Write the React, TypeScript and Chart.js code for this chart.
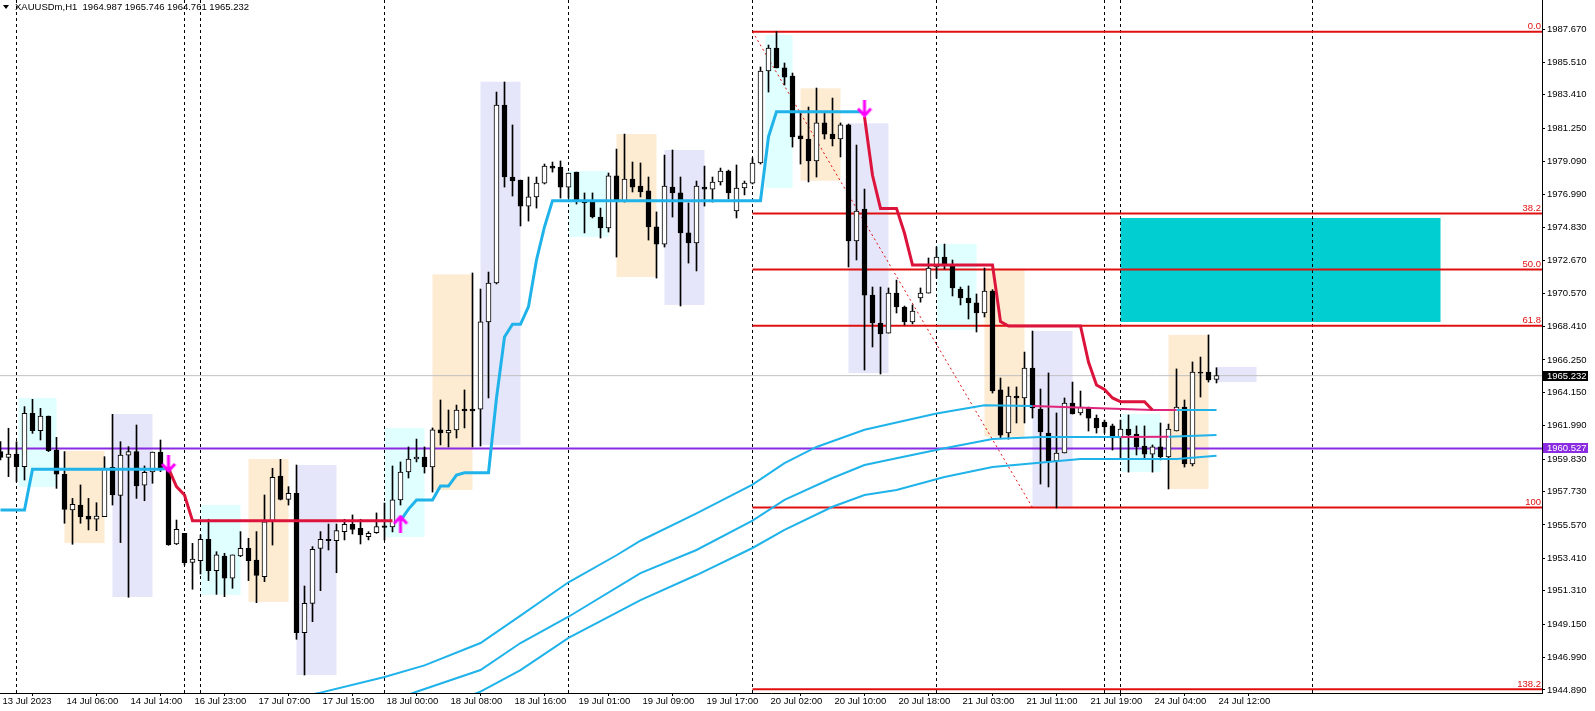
import React, { useEffect, useRef } from 'react';
import { Chart, registerables } from 'chart.js';

Chart.register(...registerables);

// ---------- axis ----------
const Y_MIN = 1944.695;
const Y_MAX = 1989.547;
const X_MIN = -0.0625;
const X_MAX = 192.6875;

const xTickBars = [0, 8, 16, 24, 32, 40, 48, 56, 64, 72, 80, 88, 96, 104, 112, 120, 128, 136, 144, 152];
const xTickLabels = ['13 Jul 2023', '14 Jul 06:00', '14 Jul 14:00', '16 Jul 23:00', '17 Jul 07:00', '17 Jul 15:00', '18 Jul 00:00', '18 Jul 08:00', '18 Jul 16:00', '19 Jul 01:00', '19 Jul 09:00', '19 Jul 17:00', '20 Jul 02:00', '20 Jul 10:00', '20 Jul 18:00', '21 Jul 03:00', '21 Jul 11:00', '21 Jul 19:00', '24 Jul 04:00', '24 Jul 12:00'];
const yTickValues = [1987.67, 1985.51, 1983.41, 1981.25, 1979.09, 1976.99, 1974.83, 1972.67, 1970.57, 1968.41, 1966.25, 1964.15, 1961.99, 1959.83, 1957.73, 1955.57, 1953.41, 1951.31, 1949.15, 1946.99, 1944.89];

// ---------- candles (bar index = array index) ----------
const open = [1960.32, 1959.95, 1960.16, 1959.34, 1962.80, 1961.67, 1962.62, 1960.42, 1958.85, 1956.54, 1956.86, 1956.15, 1955.94, 1956.11, 1959.30, 1957.49, 1960.08, 1960.32, 1958.14, 1959.00, 1960.29, 1959.24, 1954.34, 1955.03, 1953.15, 1953.26, 1954.64, 1952.61, 1953.56, 1952.12, 1953.56, 1954.06, 1953.30, 1952.22, 1955.81, 1958.74, 1957.23, 1957.62, 1948.60, 1950.50, 1954.06, 1954.64, 1954.55, 1955.14, 1955.61, 1955.35, 1954.81, 1955.07, 1955.51, 1955.44, 1957.19, 1959.00, 1959.84, 1959.97, 1959.32, 1961.72, 1961.52, 1961.72, 1963.07, 1963.07, 1963.07, 1968.71, 1971.23, 1982.75, 1978.09, 1977.89, 1976.21, 1976.80, 1977.70, 1978.80, 1978.74, 1977.44, 1978.41, 1976.60, 1976.47, 1975.50, 1974.79, 1978.16, 1976.54, 1977.96, 1977.51, 1977.19, 1974.86, 1973.75, 1977.44, 1977.06, 1974.47, 1973.82, 1977.44, 1977.31, 1977.77, 1978.48, 1975.89, 1977.38, 1977.70, 1979.00, 1984.95, 1986.44, 1985.15, 1984.63, 1980.75, 1980.55, 1979.13, 1981.59, 1980.87, 1980.55, 1981.46, 1973.95, 1976.02, 1970.45, 1968.64, 1967.99, 1970.58, 1969.68, 1968.71, 1970.26, 1970.58, 1972.27, 1972.91, 1972.33, 1970.84, 1970.26, 1969.94, 1969.29, 1970.71, 1964.31, 1961.52, 1963.92, 1963.79, 1965.73, 1963.07, 1961.52, 1959.71, 1960.23, 1963.46, 1962.82, 1963.14, 1962.49, 1962.23, 1961.98, 1961.20, 1961.78, 1961.46, 1960.68, 1960.16, 1960.62, 1959.97, 1961.65, 1963.20, 1959.52, 1965.47, 1965.47, 1964.987];
const high = [1960.96, 1961.83, 1960.96, 1963.23, 1963.70, 1963.12, 1962.62, 1961.24, 1960.32, 1957.29, 1958.16, 1957.29, 1957.01, 1959.99, 1962.73, 1960.96, 1960.64, 1962.04, 1959.39, 1960.29, 1961.07, 1959.28, 1955.89, 1955.03, 1954.38, 1954.92, 1955.94, 1953.84, 1953.74, 1953.63, 1955.14, 1954.71, 1955.14, 1957.51, 1959.24, 1959.82, 1958.05, 1959.45, 1951.62, 1954.17, 1955.14, 1955.63, 1955.63, 1955.94, 1956.22, 1955.94, 1955.14, 1956.35, 1956.99, 1959.39, 1959.65, 1960.62, 1961.13, 1960.62, 1961.85, 1963.66, 1963.01, 1963.33, 1964.31, 1971.88, 1970.84, 1971.94, 1983.59, 1984.24, 1981.46, 1977.89, 1978.09, 1978.09, 1978.93, 1979.06, 1979.13, 1978.35, 1978.41, 1977.06, 1977.06, 1976.08, 1978.35, 1979.90, 1980.87, 1979.06, 1979.00, 1978.09, 1975.83, 1979.51, 1979.84, 1978.09, 1976.41, 1977.83, 1978.80, 1978.09, 1978.67, 1978.54, 1978.87, 1977.83, 1979.32, 1985.21, 1986.63, 1987.50, 1985.47, 1984.82, 1982.23, 1982.62, 1983.85, 1982.23, 1983.20, 1981.59, 1981.52, 1980.16, 1977.31, 1970.97, 1970.97, 1970.91, 1971.42, 1969.74, 1969.81, 1970.91, 1972.85, 1973.56, 1973.75, 1972.72, 1970.97, 1971.04, 1970.52, 1972.20, 1970.80, 1965.08, 1964.50, 1964.50, 1966.76, 1968.12, 1964.37, 1965.41, 1962.82, 1963.79, 1964.82, 1964.24, 1963.20, 1962.69, 1962.36, 1962.10, 1962.36, 1962.69, 1961.98, 1961.98, 1960.75, 1962.17, 1962.10, 1965.67, 1963.66, 1966.12, 1966.44, 1967.87, 1965.746];
const low = [1959.78, 1958.70, 1958.37, 1958.48, 1961.50, 1961.07, 1960.32, 1957.94, 1955.68, 1954.32, 1955.68, 1955.25, 1955.20, 1956.11, 1956.86, 1954.43, 1950.89, 1957.29, 1957.14, 1958.27, 1959.02, 1954.25, 1954.30, 1952.98, 1951.41, 1952.40, 1951.97, 1951.08, 1950.93, 1951.47, 1953.52, 1951.97, 1950.54, 1951.90, 1954.27, 1957.19, 1956.86, 1948.17, 1945.86, 1949.31, 1951.32, 1953.95, 1952.48, 1954.60, 1954.99, 1954.34, 1954.60, 1955.03, 1954.60, 1955.12, 1956.86, 1958.61, 1959.65, 1958.93, 1957.70, 1960.75, 1960.62, 1961.20, 1961.85, 1960.62, 1960.68, 1963.79, 1971.17, 1977.44, 1976.86, 1974.92, 1975.24, 1976.08, 1977.64, 1978.41, 1976.73, 1976.73, 1976.34, 1974.47, 1975.44, 1974.14, 1974.53, 1972.91, 1976.47, 1977.12, 1976.80, 1974.01, 1971.55, 1973.56, 1975.50, 1969.74, 1972.52, 1972.01, 1976.21, 1976.47, 1977.57, 1976.67, 1975.44, 1976.93, 1977.64, 1978.93, 1983.59, 1985.15, 1984.05, 1980.03, 1978.93, 1977.77, 1978.09, 1980.55, 1980.10, 1979.39, 1972.27, 1972.72, 1965.60, 1967.09, 1965.34, 1967.99, 1969.29, 1968.51, 1968.58, 1969.99, 1970.58, 1971.55, 1972.14, 1970.39, 1969.81, 1968.90, 1968.06, 1969.03, 1964.11, 1961.20, 1961.13, 1962.17, 1962.17, 1962.49, 1958.22, 1958.03, 1956.67, 1960.23, 1962.75, 1962.69, 1961.65, 1961.52, 1961.52, 1960.42, 1959.90, 1958.99, 1960.10, 1959.90, 1958.99, 1959.78, 1957.90, 1961.65, 1959.32, 1959.39, 1963.85, 1964.82, 1964.761];
const close = [1959.95, 1960.16, 1959.34, 1962.80, 1961.67, 1962.62, 1960.38, 1958.85, 1956.58, 1956.91, 1956.11, 1955.94, 1956.15, 1959.24, 1957.51, 1960.10, 1960.32, 1958.09, 1958.98, 1960.29, 1959.17, 1954.30, 1955.29, 1953.13, 1953.37, 1954.64, 1952.61, 1953.63, 1952.12, 1953.63, 1954.06, 1953.26, 1952.31, 1955.78, 1958.65, 1957.23, 1957.62, 1948.60, 1950.50, 1953.99, 1954.64, 1954.55, 1955.20, 1955.61, 1955.29, 1954.92, 1955.03, 1955.46, 1955.41, 1957.19, 1959.00, 1959.84, 1959.97, 1959.32, 1961.72, 1961.52, 1961.70, 1963.01, 1962.95, 1962.95, 1968.71, 1971.23, 1982.75, 1978.09, 1977.83, 1976.21, 1976.80, 1977.70, 1978.80, 1978.67, 1977.44, 1978.35, 1976.54, 1976.41, 1975.50, 1974.79, 1978.16, 1976.54, 1977.96, 1977.44, 1977.12, 1974.86, 1973.75, 1977.51, 1977.06, 1974.47, 1973.82, 1977.51, 1977.31, 1977.77, 1978.48, 1977.06, 1977.38, 1977.70, 1979.00, 1984.95, 1986.44, 1985.15, 1984.56, 1980.68, 1980.55, 1979.13, 1981.59, 1980.87, 1980.55, 1981.46, 1973.95, 1975.89, 1970.45, 1968.64, 1967.93, 1970.58, 1969.68, 1968.71, 1969.42, 1970.58, 1972.20, 1972.91, 1972.33, 1970.91, 1970.26, 1969.94, 1969.29, 1970.71, 1964.24, 1961.39, 1963.92, 1963.79, 1965.73, 1963.14, 1961.59, 1959.71, 1960.23, 1963.46, 1962.75, 1963.20, 1962.49, 1961.85, 1961.91, 1961.20, 1961.78, 1961.39, 1960.62, 1960.16, 1960.62, 1959.97, 1961.78, 1963.20, 1959.52, 1965.47, 1965.40, 1964.95, 1965.232];

// ---------- trend line (bar, price) ----------
const trendUp1: [number, number][] = [[0, 1956.54], [3, 1956.54], [4, 1959.17], [20, 1959.17], [21, 1959.24]];
const trendDown1: [number, number][] = [[21, 1959.24], [22, 1958.05], [23, 1957.51], [24, 1955.85], [49, 1955.85]];
const trendUp2: [number, number][] = [[50, 1955.85], [51, 1956.6], [52, 1957.19], [54, 1957.19], [55, 1958.09], [56, 1958.09], [57, 1958.8], [58, 1958.95], [61, 1958.95], [62, 1963.79], [63, 1967.74], [64, 1968.56], [65, 1968.56], [66, 1969.70], [67, 1972.72], [68, 1974.87], [69, 1976.56], [95, 1976.56], [96, 1980.70], [97, 1982.32], [107.6, 1982.32]];
const trendDown2: [number, number][] = [[108, 1981.99], [109, 1978.2], [110, 1976.06], [112, 1976.06], [113, 1974.45], [114, 1972.40], [124, 1972.40], [125, 1968.73], [126, 1968.45], [135, 1968.45], [136, 1966.12], [137, 1964.63], [138, 1964.34], [139, 1963.79], [140, 1963.55], [143, 1963.55], [144, 1963.01]];

// ---------- moving averages (bar, price) ----------
const maFast: [number, number][] = [[37, 1944.40], [40, 1944.72], [48, 1945.73], [53, 1946.48], [60, 1947.93], [65, 1949.70], [71, 1951.86], [77, 1953.61], [80, 1954.55], [87, 1956.32], [94, 1958.18], [98, 1959.57], [102, 1960.62], [108, 1961.73], [112, 1962.20], [117, 1962.79], [123, 1963.32], [129, 1963.27]];
const maFastDown: [number, number][] = [[129, 1963.27], [144, 1963.01], [147, 1963.01]];
const maFastEnd: [number, number][] = [[147, 1963.01], [152, 1963.01]];
const maMid: [number, number][] = [[50, 1944.40], [52, 1944.78], [60, 1946.18], [65, 1947.93], [71, 1949.63], [80, 1952.46], [87, 1953.95], [94, 1955.85], [98, 1957.19], [104, 1958.61], [108, 1959.45], [112, 1959.89], [118, 1960.53], [124, 1961.13], [130, 1961.26], [140, 1961.26]];
const maMidDown: [number, number][] = [[140, 1961.26], [146, 1961.28]];
const maMidEnd: [number, number][] = [[146, 1961.28], [152, 1961.39]];
const maSlow: [number, number][] = [[58, 1944.40], [60, 1944.78], [65, 1946.18], [71, 1948.26], [80, 1950.71], [87, 1952.33], [94, 1954.08], [98, 1955.25], [104, 1956.75], [108, 1957.51], [112, 1957.83], [118, 1958.67], [124, 1959.32], [135, 1959.84], [147, 1959.84], [152, 1960.05]];

// ---------- signals (bar, price) ----------
const arrowsUp: [number, number][] = [[50, 1955.66]];
const arrowsDown: [number, number][] = [[21, 1959.52], [108, 1982.52]];

// ---------- objects ----------
const separatorBars = [2, 23, 25, 48, 71, 94, 117, 138, 140, 164];
const fibStartBar = 94;
const fibLevels = [1987.50, 1975.73, 1972.10, 1968.47, 1956.70, 1944.93];
const fibLabels = ['0.0', '38.2', '50.0', '61.8', '100', '138.2'];
const fibDiagonal: [number, number][] = [[94, 1987.50], [129, 1956.70]];
const supportLevel = 1960.527;
const lastPrice = 1965.232;
const zoneBox = [140, 180, 1975.44, 1968.71];
// [startBar, endBar, top, bottom, session kind]
const sessionBoxes: [number, number, number, number, number][] = [
  [2.25, 7, 1963.79, 1958.03, 0], [8, 13, 1960.36, 1954.40, 1], [14, 19, 1962.75, 1950.91, 2],
  [25, 30, 1956.86, 1951.04, 0], [31, 36, 1959.84, 1950.59, 1], [37, 42, 1959.45, 1945.86, 2],
  [48, 53, 1961.85, 1954.79, 0], [54, 59, 1971.79, 1957.83, 1], [60, 65, 1984.26, 1960.75, 2],
  [71, 76, 1978.48, 1974.21, 0], [77, 82, 1980.87, 1971.62, 1], [83, 88, 1979.84, 1969.81, 2],
  [95.6, 99, 1987.28, 1977.38, 0], [100, 105, 1983.83, 1977.85, 1], [106, 111, 1981.57, 1965.39, 2],
  [117, 122, 1973.75, 1968.19, 0], [123, 128, 1972.12, 1961.28, 1], [129, 134, 1968.12, 1956.76, 2],
  [140, 145, 1962.75, 1959.00, 0], [146, 151, 1967.87, 1957.90, 1], [152, 157, 1965.80, 1964.82, 2],
];
const titleText = 'XAUUSDm,H1  1964.987 1965.746 1964.761 1965.232';

// ---------- styles ----------
const FONT = "'Liberation Sans', Arial, sans-serif";
const BLUE = '#1FB3EA';
const CRIMSON = '#DC143C';
const PINK = '#E0267C';
const FIB_RED = '#E01010';
const PURPLE = '#8A2BE2';
const SESSION_COLORS = ['#E0FFFF', '#FDEBD2', '#E6E6FA'];
const ZONE_COLOR = '#00CED1';

const pts = (arr: [number, number][]) => arr.map(([x, y]) => ({ x, y }));

function makeArrow(up: boolean) {
  const c = document.createElement('canvas');
  c.width = 16;
  c.height = 18;
  const g = c.getContext('2d')!;
  g.strokeStyle = '#FF00FF';
  g.lineWidth = 3;
  g.beginPath();
  if (up) {
    g.moveTo(8, 2); g.lineTo(8, 18);
    g.moveTo(1.5, 9); g.lineTo(8, 2); g.lineTo(14.5, 9);
  } else {
    g.moveTo(8, 0); g.lineTo(8, 16);
    g.moveTo(1.5, 9); g.lineTo(8, 16); g.lineTo(14.5, 9);
  }
  g.stroke();
  return c;
}

const overlayPlugin = {
  id: 'mtOverlay',
  beforeDatasetsDraw(chart: any) {
    const { ctx, chartArea, scales } = chart;
    const x = scales.x, y = scales.y;
    ctx.save();
    ctx.beginPath();
    ctx.rect(chartArea.left, chartArea.top, chartArea.right - chartArea.left, chartArea.bottom - chartArea.top);
    ctx.clip();
    sessionBoxes.forEach(([b0, b1, top, bottom, kind]) => {
      const x0 = x.getPixelForValue(b0), x1 = x.getPixelForValue(b1);
      const y0 = y.getPixelForValue(top), y1 = y.getPixelForValue(bottom);
      ctx.fillStyle = SESSION_COLORS[kind];
      ctx.fillRect(x0, y0, x1 - x0, y1 - y0);
    });
    {
      const [b0, b1, top, bottom] = zoneBox;
      const x0 = x.getPixelForValue(b0), x1 = x.getPixelForValue(b1);
      const y0 = y.getPixelForValue(top), y1 = y.getPixelForValue(bottom);
      ctx.fillStyle = ZONE_COLOR;
      ctx.fillRect(x0, y0, x1 - x0, y1 - y0);
    }
    ctx.restore();
  },
  afterDraw(chart: any) {
    const { ctx, chartArea, scales } = chart;
    const y = scales.y;
    ctx.save();
    // fibo level labels
    ctx.font = `9.5px ${FONT}`;
    ctx.fillStyle = FIB_RED;
    ctx.textAlign = 'right';
    ctx.textBaseline = 'bottom';
    fibLevels.forEach((v, i) => {
      ctx.fillText(fibLabels[i], chartArea.right - 1, y.getPixelForValue(v) - 0.5);
    });
    // price tags on the axis
    const tags: [number, string][] = [[lastPrice, '#000000'], [supportLevel, PURPLE]];
    tags.forEach(([v, col]) => {
      const py = Math.round(y.getPixelForValue(v));
      ctx.fillStyle = col;
      ctx.fillRect(chartArea.right + 1, py - 5, 45, 10);
      ctx.fillStyle = '#FFFFFF';
      ctx.textAlign = 'left';
      ctx.textBaseline = 'middle';
      ctx.fillText(v.toFixed(3), chartArea.right + 5, py + 0.5);
    });
    // title
    ctx.fillStyle = '#000';
    ctx.beginPath();
    ctx.moveTo(3, 5); ctx.lineTo(9, 5); ctx.lineTo(6, 9); ctx.closePath();
    ctx.fill();
    ctx.textAlign = 'left';
    ctx.textBaseline = 'middle';
    ctx.fillText(titleText, 15, 7.5);
    ctx.restore();
  },
};

export default function App() {
  const ref = useRef<HTMLCanvasElement>(null);
  useEffect(() => {
    document.body.style.margin = '0';
    Chart.defaults.font.family = FONT;
    Chart.defaults.font.size = 9.5;
    Chart.defaults.color = '#000';

    const bars = open.map((_, i) => i);
    const hLine = (v: number, from: number) => [{ x: from, y: v }, { x: X_MAX, y: v }];
    const sepData: any[] = [];
    separatorBars.forEach((b) => {
      sepData.push({ x: b, y: Y_MIN }, { x: b, y: Y_MAX }, { x: b, y: null });
    });
    const lineDs = (data: any[], color: string, width: number, order: number, extra: any = {}) => ({
      type: 'line',
      data,
      borderColor: color,
      borderWidth: width,
      pointRadius: 0,
      tension: 0,
      fill: false,
      spanGaps: false,
      order,
      ...extra,
    });

    const datasets: any[] = [
      lineDs(sepData, '#000', 1, 100, { borderDash: [3, 3] }),
      lineDs(hLine(lastPrice, X_MIN), '#C0C0C0', 1, 90),
      lineDs(hLine(supportLevel, X_MIN), PURPLE, 2, 60),
      ...fibLevels.map((v) => lineDs(hLine(v, fibStartBar), FIB_RED, 2, 60)),
      lineDs(pts(fibDiagonal), FIB_RED, 1, 60, { borderDash: [2, 3] }),
      {
        type: 'bar',
        data: bars.map((i) => ({ x: i, y: [low[i], high[i]] })),
        backgroundColor: '#000',
        borderWidth: 0,
        barThickness: 1,
        grouped: false,
        minBarLength: 1,
        order: 50,
      },
      {
        type: 'bar',
        data: bars.map((i) => ({ x: i, y: [open[i], close[i]] })),
        backgroundColor: bars.map((i) => (close[i] >= open[i] ? '#FFFFFF' : '#000000')),
        borderColor: '#000',
        borderWidth: 1,
        borderSkipped: false,
        barThickness: 5,
        grouped: false,
        minBarLength: 1,
        order: 49,
      },
      lineDs(pts(maFast), BLUE, 2, 30),
      lineDs(pts(maFastDown), PINK, 2, 30),
      lineDs(pts(maFastEnd), BLUE, 2, 30),
      lineDs(pts(maMid), BLUE, 2, 30),
      lineDs(pts(maMidDown), PINK, 2, 30),
      lineDs(pts(maMidEnd), BLUE, 2, 30),
      lineDs(pts(maSlow), BLUE, 2, 30),
      lineDs(pts(trendUp1), BLUE, 3, 20),
      lineDs(pts(trendUp2), BLUE, 3, 20),
      lineDs(pts(trendDown1), CRIMSON, 3, 20),
      lineDs(pts(trendDown2), CRIMSON, 3, 20),
      lineDs(pts(arrowsUp), 'transparent', 0, 10, { showLine: false, pointRadius: 9, pointStyle: makeArrow(true) }),
      lineDs(pts(arrowsDown), 'transparent', 0, 10, { showLine: false, pointRadius: 9, pointStyle: makeArrow(false) }),
    ];

    const chart = new Chart(ref.current!, {
      type: 'line',
      data: { datasets },
      options: {
        animation: false,
        responsive: false,
        events: [],
        layout: { padding: 0, autoPadding: false } as any,
        plugins: { legend: { display: false }, tooltip: { enabled: false }, title: { display: false } },
        scales: {
          x: {
            type: 'linear',
            min: X_MIN,
            max: X_MAX,
            offset: false,
            afterBuildTicks: (s: any) => { s.ticks = xTickBars.map((v) => ({ value: v })); },
            afterFit: (s: any) => {
              s.height = 18;
              s.paddingLeft = 0; s.paddingRight = 0; s.paddingTop = 0; s.paddingBottom = 0;
            },
            ticks: {
              callback: (_v: any, i: number) => xTickLabels[i],
              align: 'start',
              padding: 0,
              labelOffset: 2,
              autoSkip: false,
              maxRotation: 0,
              minRotation: 0,
              color: '#000',
              font: { family: FONT, size: 9.5 },
            },
            grid: { drawOnChartArea: false, drawTicks: true, tickLength: 3, color: '#000' },
            border: { display: true, color: '#000', width: 1 },
          },
          y: {
            type: 'linear',
            position: 'right',
            min: Y_MIN,
            max: Y_MAX,
            afterBuildTicks: (s: any) => { s.ticks = yTickValues.map((v) => ({ value: v })); },
            afterFit: (s: any) => {
              s.width = 53;
              s.paddingLeft = 0; s.paddingRight = 0; s.paddingTop = 0; s.paddingBottom = 0;
            },
            ticks: {
              callback: (v: any) => Number(v).toFixed(3),
              padding: 2,
              autoSkip: false,
              color: '#000',
              font: { family: FONT, size: 9.5 },
            },
            grid: { drawOnChartArea: false, drawTicks: true, tickLength: 3, color: '#000' },
            border: { display: true, color: '#000', width: 1 },
          },
        },
      } as any,
      plugins: [overlayPlugin],
    } as any);
    return () => chart.destroy();
  }, []);

  return (
    <div style={{ position: 'absolute', left: 0, top: 0, width: 1595, height: 711, background: '#FFFFFF' }}>
      <canvas ref={ref} width={1595} height={711} style={{ width: 1595, height: 711, display: 'block' }} />
    </div>
  );
}
